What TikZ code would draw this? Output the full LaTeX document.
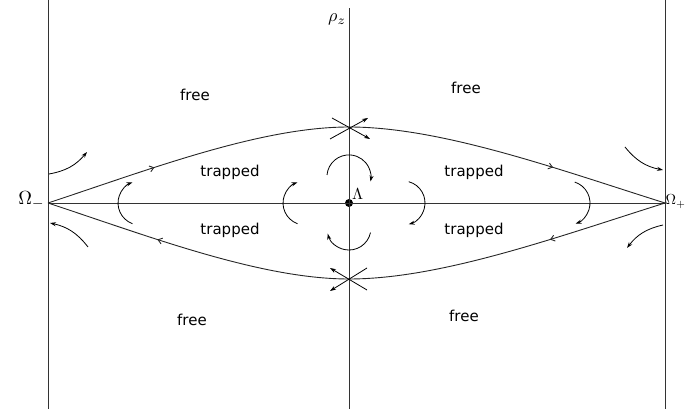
\documentclass[tikz,border=0pt]{standalone}
\usepackage{graphicx}
\usepackage{fontspec}
\setmainfont{DejaVu Sans}
\usetikzlibrary{arrows.meta,decorations.markings}

\tikzset{
  axis/.style={line width=0.8pt, black!80},
  sep/.style={line width=0.9pt, black!85},
  flow/.style={line width=0.8pt, -{Stealth[length=6pt,width=4pt]}},
  midarrow/.style={postaction={decorate}, decoration={markings,
    mark=at position #1 with {\arrow{Straight Barb[length=4pt,width=6pt]}}}},
  region/.style={font=\fontsize{15}{18}\selectfont},
}

\begin{document}
\begin{tikzpicture}[x=1pt,y=1pt]
\useasboundingbox (0,0) rectangle (686,409);

% Points
\coordinate (Om) at (48,206);
\coordinate (Op) at (665,206);
\coordinate (S1) at (349,282);
\coordinate (S2) at (349,130);
\node[circle, fill=black, inner sep=0pt, minimum size=8pt] (L) at (349,206) {};

% Axes
\draw[axis] (48,0) -- (48,409);
\draw[axis] (665,0) -- (665,409);
\draw[axis] (349,0) -- (349,401);
\draw[axis] (Om) -- (Op);

% Separatrices
\draw[sep, midarrow=0.36] (Om) .. controls (148,239) and (260,282) .. (S1);
\draw[sep, midarrow=0.64] (S1) .. controls (442,282) and (560,239) .. (Op);
\draw[sep, midarrow=0.37] (Op) .. controls (560,173) and (442,130) .. (S2);
\draw[sep, midarrow=0.63] (S2) .. controls (260,130) and (148,173) .. (Om);

% Saddles
\draw[flow] (332,291) -- (370,270);
\draw[flow] (330,270) -- (368,291);
\draw[flow] (367,141) -- (330,118);
\draw[flow] (367,119) -- (330,141);

% Rotation
\draw[flow] (327,234) arc[start angle=175, end angle=-12, radius=22];
\draw[flow] (408.7,227.3) arc[start angle=75, end angle=-75, radius=22];
\draw[flow] (370.5,176.4) arc[start angle=-12, end angle=-165, radius=22];
\draw[flow] (297.5,185.3) arc[start angle=-110, end angle=-250, radius=22];
\draw[flow] (132.5,185.3) arc[start angle=-110, end angle=-250, radius=22];
\draw[flow] (574.8,226.9) arc[start angle=72, end angle=-70, radius=22];

% Outer flow
\draw[flow] (49,235) to[bend right=20] (87,257);
\draw[flow] (88,162) to[bend right=20] (50,186);
\draw[flow] (625,262) to[bend right=20] (663,239);
\draw[flow] (663,184) to[bend right=20] (627,161);

% Labels
\node[region] (f1) at (195,314) {free};
\node[region] (f2) at (466,321) {free};
\node[region] (f3) at (192,89) {free};
\node[region] (f4) at (464,93) {free};
\node[region] (t1) at (230,237) {trapped};
\node[region] (t2) at (474,237) {trapped};
\node[region] (t3) at (230,179) {trapped};
\node[region] (t4) at (474,179) {trapped};
\node[anchor=base east, inner sep=1pt] (om) at (46,204) {\scalebox{1.9}{$\Omega_-$}};
\node[anchor=base west, inner sep=0pt] (op) at (665.5,204) {\scalebox{1.45}{$\Omega_+$}};
\node[anchor=base east, inner sep=1pt] (rz) at (347,387) {\scalebox{1.8}{$\rho_z$}};
\node[anchor=south west, inner sep=0pt] (lam) at (L.north east) {\scalebox{1.6}{$\Lambda$}};

\end{tikzpicture}
\end{document}
